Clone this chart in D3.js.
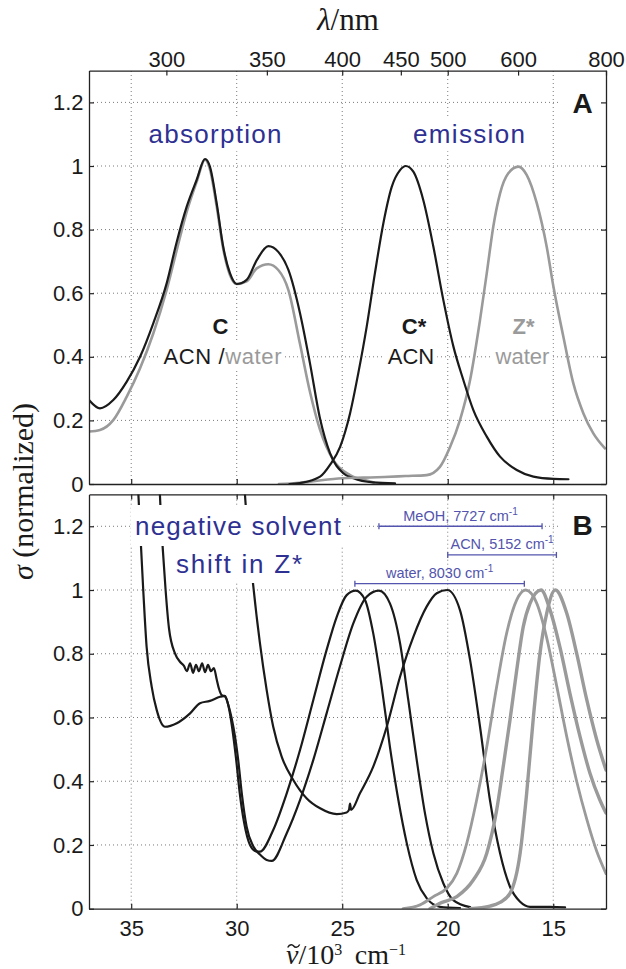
<!DOCTYPE html>
<html><head><meta charset="utf-8">
<script src="https://cdn.jsdelivr.net/npm/d3@7"></script>
<style>body{margin:0;background:#fff} svg{display:block}</style>
</head><body>
<svg id="chart" width="626" height="969"></svg>
<script>
// ---------------- data ----------------
const xDomain = [37, 12.5];              // wavenumber, 10^3 cm^-1
const yDomain = [0, 1.3];
const xTicks = [35, 30, 25, 20, 15];
const xTickLabels = ["35", "30", "25", "20", "15"];
const yTicks = [0, 0.2, 0.4, 0.6, 0.8, 1, 1.2];
const yTickLabels = ["0", "0.2", "0.4", "0.6", "0.8", "1", "1.2"];
const lambdaTicks = [300, 350, 400, 450, 500, 600, 800];   // nm
const lambdaTickLabels = ["300", "350", "400", "450", "500", "600", "800"];

// Panel A: [wavenumber (10^3 cm^-1), sigma]
const absACN = [[37.0,0.264],[36.48,0.238],[35.85,0.264],[35.21,0.322],[34.58,0.40],[33.95,0.506],[33.32,0.631],[32.84,0.762],[32.37,0.872],[31.90,0.956],[31.50,1.022],[31.27,0.998],[30.95,0.883],[30.64,0.746],[30.32,0.663],[30.00,0.629],[29.53,0.642],[29.05,0.704],[28.50,0.748],[28.03,0.73],[27.55,0.673],[27.00,0.537],[26.53,0.38],[26.05,0.205],[25.58,0.097],[24.95,0.034],[24.47,0.018],[23.54,0.005],[22.5,0.002]];
const absWater = [[37.0,0.165],[36.48,0.17],[35.85,0.201],[35.21,0.275],[34.58,0.364],[33.95,0.474],[33.32,0.61],[32.84,0.736],[32.37,0.856],[31.90,0.95],[31.50,1.02],[31.27,0.99],[30.95,0.873],[30.64,0.74],[30.32,0.657],[30.00,0.629],[29.53,0.637],[29.05,0.678],[28.50,0.691],[28.03,0.673],[27.55,0.61],[27.00,0.44],[26.53,0.29],[26.05,0.17],[25.42,0.075],[24.63,0.028],[23.8,0.01],[23.5,0.005]];
const emACN = [[27.5,0.0],[27.0,0.003],[26.05,0.023],[25.58,0.06],[25.10,0.117],[24.63,0.222],[24.24,0.348],[23.84,0.495],[23.45,0.663],[23.05,0.82],[22.65,0.935],[22.26,0.987],[21.99,1.0],[21.63,0.982],[21.16,0.893],[20.68,0.746],[20.21,0.579],[19.73,0.432],[19.26,0.327],[18.79,0.233],[18.15,0.149],[17.52,0.086],[16.73,0.044],[15.94,0.023],[14.99,0.016],[14.28,0.015]];
const emWater = [[28.0,0.0],[27.0,0.004],[26.0,0.012],[25.0,0.018],[24.0,0.02],[23.0,0.022],[22.0,0.025],[21.0,0.028],[20.37,0.054],[19.9,0.115],[19.42,0.201],[18.94,0.327],[18.47,0.516],[18.15,0.663],[17.84,0.81],[17.52,0.914],[17.13,0.977],[16.65,0.998],[16.26,0.972],[15.78,0.883],[15.31,0.746],[14.99,0.62],[14.52,0.463],[14.05,0.317],[13.57,0.222],[13.10,0.159],[12.55,0.112]];

// Panel B: absorption + emission of the neutral form (black) in three solvents
const bWater = [[34.77,1.45],[34.66,1.3],[34.43,1.0],[34.27,0.822],[34.03,0.697],[33.79,0.623],[33.40,0.571],[32.84,0.582],[32.21,0.613],[31.74,0.645],[31.27,0.652],[30.79,0.665],[30.56,0.668],[30.37,0.63],[30.22,0.57],[30.03,0.47],[29.87,0.37],[29.65,0.27],[29.37,0.2],[29.08,0.18],[28.90,0.179],[28.27,0.247],[27.63,0.362],[27.00,0.498],[26.37,0.655],[25.74,0.812],[25.26,0.916],[24.79,0.984],[24.36,0.998],[23.92,0.969],[23.53,0.864],[23.13,0.697],[22.74,0.508],[22.34,0.341],[21.94,0.205],[21.47,0.09],[21.00,0.033],[20.37,0.006],[19.42,0.002]];
const bMeOH = [[33.73,1.45],[33.64,1.3],[33.37,1.0],[33.21,0.88],[32.92,0.80],[32.69,0.775],[32.50,0.762],[32.36,0.745],[32.21,0.77],[32.07,0.74],[31.93,0.765],[31.79,0.745],[31.64,0.77],[31.50,0.742],[31.36,0.765],[31.22,0.745],[31.08,0.755],[30.95,0.72],[30.84,0.69],[30.71,0.67],[30.56,0.666],[30.32,0.62],[30.16,0.571],[29.93,0.467],[29.76,0.362],[29.53,0.257],[29.21,0.195],[28.90,0.17],[28.58,0.153],[28.34,0.15],[27.63,0.237],[27.00,0.341],[26.37,0.467],[25.74,0.613],[25.11,0.76],[24.47,0.896],[23.84,0.979],[23.26,0.998],[22.74,0.958],[22.26,0.833],[21.87,0.655],[21.47,0.467],[21.08,0.30],[20.68,0.174],[20.21,0.08],[19.74,0.027],[18.94,0.005]];
const bACN = [[29.75,1.45],[29.61,1.3],[29.21,1.01],[28.90,0.833],[28.58,0.686],[28.27,0.571],[27.87,0.477],[27.32,0.404],[26.68,0.346],[26.05,0.315],[25.26,0.297],[24.79,0.302],[24.68,0.31],[24.63,0.33],[24.58,0.31],[24.16,0.362],[23.53,0.446],[22.89,0.571],[22.26,0.728],[21.63,0.853],[21.00,0.948],[20.52,0.99],[20.02,1.0],[19.42,0.937],[18.94,0.78],[18.47,0.571],[18.00,0.341],[17.52,0.174],[17.05,0.069],[16.57,0.022],[16.10,0.006],[15.15,0.006],[14.44,0.004]];
// Panel B: emission of the zwitterion Z* (grey)
const zWater = [[22.12,0.0],[21.31,0.012],[20.68,0.038],[20.05,0.064],[19.57,0.111],[19.10,0.205],[18.63,0.341],[18.15,0.508],[17.68,0.697],[17.21,0.864],[16.73,0.969],[16.31,1.0],[15.78,0.958],[15.31,0.85],[14.84,0.70],[14.36,0.54],[13.89,0.40],[13.41,0.28],[12.94,0.18],[12.50,0.11]];
const zMeOH = [[20.84,0.0],[20.37,0.017],[19.57,0.038],[18.79,0.09],[18.15,0.174],[17.68,0.31],[17.37,0.446],[17.05,0.592],[16.73,0.749],[16.42,0.885],[16.10,0.958],[15.58,1.0],[15.15,0.937],[14.68,0.82],[14.21,0.676],[13.73,0.54],[13.26,0.425],[12.79,0.341],[12.50,0.30]];
const zACN = [[18.94,0.0],[18.00,0.008],[17.52,0.02],[17.05,0.048],[16.57,0.174],[16.26,0.362],[15.94,0.602],[15.63,0.801],[15.31,0.927],[14.90,1.0],[14.36,0.927],[13.89,0.801],[13.41,0.655],[12.94,0.53],[12.50,0.435]];

// Stokes-shift annotations in panel B
const shiftNames = ["MeOH, 7727 cm", "ACN, 5152 cm", "water, 8030 cm"];
const shiftFrom = [23.26, 20.0, 24.4];
const shiftTo = [15.53, 14.85, 16.37];
const shiftLevel = [1.2, 1.11, 1.02];

// ---------------- drawing ----------------
const svg = d3.select("#chart");
const x = d3.scaleLinear().domain(xDomain).range([89, 606]);
const yA = d3.scaleLinear().domain(yDomain).range([484, 70.6]);
const yB = d3.scaleLinear().domain(yDomain).range([908.7, 494.4]);

const BLACK = "#1a1a1a", GRAY = "#9a9a9a", BLUE = "#2e3192", ABLUE = "#5254ad";
const sans = "'Liberation Sans', Arial, Helvetica, sans-serif";
const serif = "'Liberation Serif', 'Times New Roman', serif";

function panel(y, id) {
  const g = svg.append("g");
  const [yb, yt] = y.range();
  g.append("clipPath").attr("id", id).append("rect")
    .attr("x", x.range()[0]).attr("y", yt).attr("width", x.range()[1] - x.range()[0]).attr("height", yb - yt);
  const grid = g.append("g").attr("stroke", "#7a7a7a").attr("stroke-width", 1).attr("stroke-dasharray", "1,3");
  grid.selectAll("line.v").data(xTicks).join("line").attr("class", "v")
    .attr("x1", d => x(d)).attr("x2", d => x(d)).attr("y1", yb).attr("y2", yt);
  grid.selectAll("line.h").data(yTicks.filter(d => d > 0)).join("line").attr("class", "h")
    .attr("x1", x.range()[0]).attr("x2", x.range()[1]).attr("y1", d => y(d)).attr("y2", d => y(d));
  const plot = g.append("g").attr("clip-path", `url(#${id})`);
  return { g, plot };
}

function curve(plot, y, data, color, width) {
  const line = d3.line().x(d => x(d[0])).y(d => y(d[1])).curve(d3.curveMonotoneX);
  plot.append("path").datum(data).attr("d", line)
    .attr("fill", "none").attr("stroke", color).attr("stroke-width", width)
    .attr("stroke-linejoin", "round").attr("stroke-linecap", "round");
}

function boxedText(g, tx, ty, parts, opts) {
  const t = g.append("text").attr("x", tx).attr("y", ty).attr("text-anchor", opts.anchor || "middle")
    .attr("font-family", sans).attr("font-size", opts.size).attr("font-weight", opts.weight || "normal");
  if (opts.len) t.attr("textLength", opts.len).attr("lengthAdjust", "spacing");
  parts.forEach(p => t.append("tspan").attr("fill", p[1]).text(p[0]));
  if (opts.box !== false) {
    const b = t.node().getBBox();
    const pad = opts.pad || [3, 2];
    g.insert("rect", () => t.node()).attr("x", b.x - pad[0]).attr("y", b.y - pad[1])
      .attr("width", b.width + 2 * pad[0]).attr("height", b.height + 2 * pad[1]).attr("fill", "#fff");
  }
  return t;
}

function styleAxis(sel) {
  sel.select(".domain").attr("stroke", "#222").attr("stroke-width", 1.3);
  sel.selectAll(".tick line").attr("stroke", "#222").attr("stroke-width", 1.2);
  sel.selectAll(".tick text").attr("font-family", sans).attr("font-size", 22).attr("fill", "#1a1a1a");
}

function axes(g, y, withTop, bottomLabels) {
  const [yb, yt] = y.range();
  g.append("g").attr("transform", `translate(${x.range()[0]},0)`)
    .call(d3.axisLeft(y).tickValues(yTicks).tickFormat((d, i) => yTickLabels[i]).tickSizeInner(-5).tickSizeOuter(0).tickPadding(5.5))
    .call(styleAxis);
  g.append("g").attr("transform", `translate(${x.range()[1]},0)`)
    .call(d3.axisRight(y).tickValues(yTicks).tickFormat("").tickSizeInner(-5).tickSizeOuter(0))
    .call(styleAxis);
  g.append("g").attr("transform", `translate(0,${yb})`)
    .call(d3.axisBottom(x).tickValues(xTicks).tickFormat((d, i) => bottomLabels ? xTickLabels[i] : "").tickSizeInner(-5).tickSizeOuter(0).tickPadding(11.5))
    .call(styleAxis);
  if (withTop) {
    g.append("g").attr("transform", `translate(0,${yt})`)
      .call(d3.axisTop(x).tickValues(lambdaTicks.map(l => 1e4 / l)).tickFormat((d, i) => lambdaTickLabels[i]).tickSizeInner(-5).tickSizeOuter(0).tickPadding(4))
      .call(styleAxis);
  } else {
    g.append("g").attr("transform", `translate(0,${yt})`)
      .call(d3.axisTop(x).tickValues(xTicks).tickFormat("").tickSizeInner(-5).tickSizeOuter(0))
      .call(styleAxis);
  }
}

// ---- Panel A ----
const pA = panel(yA, "clipA");
curve(pA.plot, yA, absWater, GRAY, 2.6);
curve(pA.plot, yA, absACN, BLACK, 2.2);
curve(pA.plot, yA, emWater, GRAY, 2.6);
curve(pA.plot, yA, emACN, BLACK, 2.2);

boxedText(pA.g, 215, 143.3, [["absorption", BLUE]], { size: 26, len: 133 });
boxedText(pA.g, 469, 143.3, [["emission", BLUE]], { size: 26, len: 112 });
boxedText(pA.g, 220.5, 334, [["C", BLACK]], { size: 22, weight: "bold" });
boxedText(pA.g, 222.5, 364, [["ACN /", BLACK], ["water", GRAY]], { size: 22, len: 118 });
boxedText(pA.g, 414, 334, [["C*", BLACK]], { size: 22, weight: "bold" });
boxedText(pA.g, 411, 364, [["ACN", BLACK]], { size: 22 });
boxedText(pA.g, 523.5, 334, [["Z*", GRAY]], { size: 22, weight: "bold" });
boxedText(pA.g, 522.5, 364, [["water", GRAY]], { size: 22 });
boxedText(pA.g, 582.5, 113.3, [["A", BLACK]], { size: 28, weight: "bold", pad: [14, 4] });
axes(pA.g, yA, true, false);

// ---- Panel B ----
const pB = panel(yB, "clipB");
curve(pB.plot, yB, bWater, BLACK, 2.2);
curve(pB.plot, yB, bMeOH, BLACK, 2.2);
curve(pB.plot, yB, bACN, BLACK, 2.2);
curve(pB.plot, yB, zWater, GRAY, 2.8);
curve(pB.plot, yB, zMeOH, GRAY, 3.4);
curve(pB.plot, yB, zACN, GRAY, 3.4);

// text boxes hiding curves
pB.g.append("rect").attr("x", 131).attr("y", 505).attr("width", 215).attr("height", 41).attr("fill", "#fff");
pB.g.append("rect").attr("x", 172).attr("y", 545).attr("width", 134).attr("height", 38).attr("fill", "#fff");
boxedText(pB.g, 238, 535, [["negative solvent", BLUE]], { size: 26, len: 206, box: false });
boxedText(pB.g, 239, 573.3, [["shift in Z*", BLUE]], { size: 26, len: 126, box: false });
boxedText(pB.g, 582.5, 535, [["B", BLACK]], { size: 28, weight: "bold", pad: [14, 4] });

// Stokes shift bars
const ann = pB.g.append("g");
shiftNames.forEach((name, i) => {
  const x1 = x(shiftFrom[i]), x2 = x(shiftTo[i]), yy = yB(shiftLevel[i]);
  ann.append("line").attr("x1", x1).attr("x2", x2).attr("y1", yy).attr("y2", yy).attr("stroke", ABLUE).attr("stroke-width", 1.3);
  [x1, x2].forEach(xx => ann.append("line").attr("x1", xx).attr("x2", xx).attr("y1", yy - 3).attr("y2", yy + 3).attr("stroke", ABLUE).attr("stroke-width", 1.3));
  const t = ann.append("text").attr("x", (x1 + x2) / 2).attr("y", yy - 5.5).attr("text-anchor", "middle")
    .attr("font-family", sans).attr("font-size", 14.5).attr("fill", ABLUE);
  t.append("tspan").text(name);
  t.append("tspan").attr("font-size", 10).attr("dy", -6).text("-1");
});
axes(pB.g, yB, false, true);

// ---- axis titles ----
const topTitle = svg.append("text").attr("x", 348).attr("y", 30).attr("text-anchor", "middle")
  .attr("font-family", serif).attr("font-size", 31).attr("fill", "#1a1a1a");
topTitle.append("tspan").attr("font-style", "italic").text("λ");
topTitle.append("tspan").text("/nm");

const botY = 964;
const botTitle = svg.append("text").attr("x", 346).attr("y", botY).attr("text-anchor", "middle")
  .attr("font-family", serif).attr("font-size", 28).attr("fill", "#1a1a1a");
botTitle.append("tspan").attr("font-style", "italic").text("\u03BD");
botTitle.append("tspan").text("/10");
botTitle.append("tspan").attr("font-size", 16).attr("dy", -9).text("3");
botTitle.append("tspan").attr("dy", 9).text("\u2009 cm");
botTitle.append("tspan").attr("font-size", 16).attr("dy", -9).text("\u22121");
{
  // tilde accent over the nu, drawn as a small path
  const n = botTitle.node();
  const s = n.getStartPositionOfChar(0), e = n.getEndPositionOfChar(0);
  const cx = (s.x + e.x) / 2 + 1.5, cy = botY - 18;
  svg.append("path")
    .attr("d", `M${cx - 6},${cy + 1.5} C${cx - 4},${cy - 2.5} ${cx - 1},${cy - 1.5} ${cx},${cy} S${cx + 4},${cy + 2.5} ${cx + 6},${cy - 1.5}`)
    .attr("fill", "none").attr("stroke", "#1a1a1a").attr("stroke-width", 1.4);
}

const yTitle = svg.append("text").attr("transform", "translate(33,491.5) rotate(-90)").attr("text-anchor", "middle")
  .attr("font-family", serif).attr("font-size", 30).attr("fill", "#1a1a1a");
yTitle.append("tspan").attr("font-style", "italic").text("σ");
yTitle.append("tspan").text(" (normalized)");
</script>
</body></html>
